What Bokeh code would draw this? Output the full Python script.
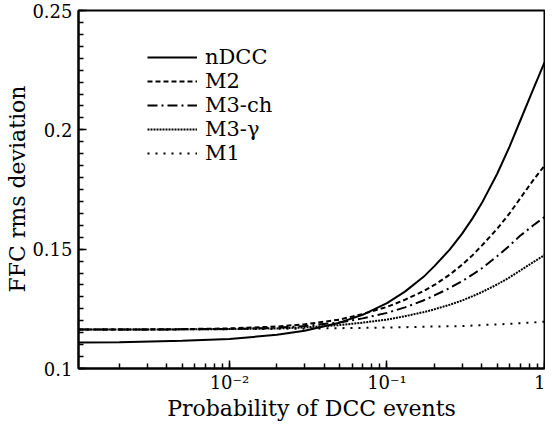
from bokeh.plotting import figure
from bokeh.models import (Legend, LegendItem, Title, SingleIntervalTicker, LogTicker,
                          CustomJSTickFormatter, Range1d)
from bokeh.embed import file_html
from bokeh.resources import INLINE

# ---- data ----
prob = [0.0011, 0.002, 0.005, 0.01, 0.02, 0.03, 0.05, 0.07, 0.1, 0.13, 0.17, 0.2,
        0.25, 0.3, 0.35, 0.4, 0.5, 0.6, 0.7, 0.85, 1.0]
ndcc = [0.1109, 0.1110, 0.1116, 0.1124, 0.1141, 0.1158, 0.1192, 0.1225, 0.1274, 0.1322,
        0.1383, 0.1429, 0.1498, 0.1565, 0.1630, 0.1693, 0.1815, 0.1930, 0.2037, 0.2172, 0.2283]
m2 = [0.1163, 0.1163, 0.1165, 0.1168, 0.1176, 0.1185, 0.1205, 0.1228, 0.1258, 0.1288,
      0.1324, 0.1350, 0.1393, 0.1435, 0.1475, 0.1515, 0.1585, 0.1650, 0.1712, 0.1790, 0.1850]
m3ch = [0.1163, 0.1163, 0.1164, 0.1166, 0.1171, 0.1178, 0.1193, 0.1210, 0.1233, 0.1256,
        0.1285, 0.1306, 0.1337, 0.1366, 0.1394, 0.1420, 0.1470, 0.1515, 0.1556, 0.1600, 0.1635]
m3g = [0.1163, 0.1163, 0.1164, 0.1165, 0.1168, 0.1172, 0.1182, 0.1192, 0.1205, 0.1219,
       0.1236, 0.1248, 0.1267, 0.1285, 0.1303, 0.1320, 0.1352, 0.1382, 0.1410, 0.1446, 0.1475]
m1 = [0.1163, 0.1163, 0.1164, 0.1165, 0.1166, 0.1167, 0.1169, 0.1170, 0.1172, 0.1173,
      0.1175, 0.1176, 0.1177, 0.1178, 0.1180, 0.1182, 0.1185, 0.1187, 0.1190, 0.1193, 0.1196]

series_names = ["nDCC", "M2", "M3-ch", "M3-\u03b3", "M1"]
series_vals = [ndcc, m2, m3ch, m3g, m1]
series_dash = ["solid", "5 3", "10 4 2 4", "2 1", "2 6"]

x_title = "Probability of DCC events"
y_title = "FFC rms deviation"

FONT = "DejaVu Serif"

p = figure(width=545, height=426, x_axis_type="log", output_backend="svg",
           toolbar_location=None,
           x_range=Range1d(0.0011, 1.0), y_range=Range1d(0.1, 0.25),
           min_border_left=78, min_border_right=1, min_border_top=10, min_border_bottom=58)
p.grid.visible = False
p.background_fill_color = "white"
p.outline_line_color = "black"
p.outline_line_width = 2
p.outline_line_alpha = 1

renderers = []
for name, vals, dash in zip(series_names, series_vals, series_dash):
    r = p.line(prob, vals, line_color="black", line_width=2, line_dash=dash)
    renderers.append((name, r))

legend = Legend(items=[LegendItem(label=n, renderers=[r]) for n, r in renderers],
                location=(69, 203), orientation="vertical")
legend.background_fill_alpha = 0
legend.border_line_alpha = 0
legend.padding = 0
legend.margin = 0
legend.spacing = 0
legend.glyph_width = 50
legend.glyph_height = 24
legend.label_height = 24
legend.label_standoff = 8
legend.label_text_font = FONT
legend.label_text_font_size = "21px"
legend.label_text_color = "black"
p.add_layout(legend, "center")

# axes
xa = p.xaxis[0]
xa.ticker = LogTicker(num_minor_ticks=10)
xa.formatter = CustomJSTickFormatter(code="""
const e = Math.round(Math.log10(tick));
if (e == 0) { return "1"; }
const sup = {"-": "\u207b", "0": "\u2070", "1": "\u00b9", "2": "\u00b2", "3": "\u00b3"};
return "10" + String(e).split("").map(c => sup[c]).join("");
""")
xa.axis_label = x_title
ya = p.yaxis[0]
ya.ticker = SingleIntervalTicker(interval=0.05, num_minor_ticks=10)
ya.formatter = CustomJSTickFormatter(code="return String(Math.round(tick * 1000) / 1000);")

for ax in (xa, ya):
    ax.axis_line_width = 2
    ax.axis_line_color = "black"
    ax.major_tick_in = 8
    ax.major_tick_out = 0
    ax.minor_tick_in = 5
    ax.minor_tick_out = 0
    ax.major_tick_line_width = 1.5
    ax.minor_tick_line_width = 1.5
    ax.major_label_text_font = FONT
    ax.major_label_text_font_size = "18px"
    ax.major_label_text_color = "black"
    ax.axis_label_text_font = FONT
    ax.axis_label_text_font_size = "22px"
    ax.axis_label_text_font_style = "normal"
    ax.axis_label_text_color = "black"
xa.major_label_standoff = 3
xa.axis_label_standoff = 0
ya.major_label_standoff = 6

ytitle = Title(text=y_title, align="left", offset=76, standoff=0,
               text_font=FONT, text_font_size="22px", text_font_style="normal",
               text_color="black")
p.add_layout(ytitle, "left")

open("out.html", "w").write(file_html(p, INLINE))
